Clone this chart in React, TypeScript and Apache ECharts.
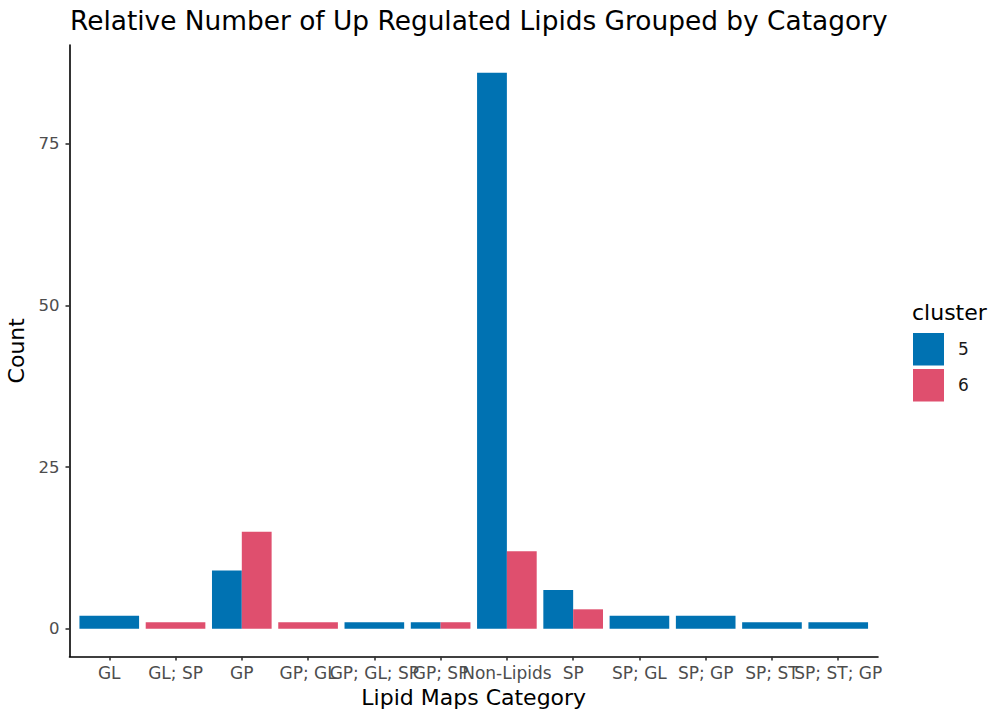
import React, { useEffect, useRef } from "react";
import * as echarts from "echarts";

const categories = [
  "GL", "GL; SP", "GP", "GP; GL", "GP; GL; SP", "GP; SP",
  "Non-Lipids", "SP", "SP; GL", "SP; GP", "SP; ST", "SP; ST; GP",
];
// null = cluster absent for that category
const cluster5: (number | null)[] = [2, null, 9, null, 1, 1, 86, 6, 2, 2, 1, 1];
const cluster6: (number | null)[] = [null, 1, 15, 1, null, 1, 12, 3, null, null, null, null];
const yTicks = [0, 25, 50, 75];

const BLUE = "#0072B2";
const RED = "#DF4F6E";
const FONT = "DejaVu Sans";
const X_MIN = -0.6;
const X_MAX = categories.length - 1 + 0.6;

function buildData(values: (number | null)[], other: (number | null)[], slotIfPair: number) {
  const out: number[][] = [];
  values.forEach((v, i) => {
    if (v === null) return;
    const n = other[i] === null ? 1 : 2;
    out.push([i, v, n === 1 ? 0 : slotIfPair, n]);
  });
  return out;
}

const renderBar = (params: any, api: any) => {
  const x = api.value(0);
  const v = api.value(1);
  const slot = api.value(2);
  const n = api.value(3);
  const w = 0.9 / n;
  const x0 = x - 0.45 + slot * w;
  const p0 = api.coord([x0, 0]);
  const p1 = api.coord([x0 + w, v]);
  return {
    type: "rect",
    shape: { x: p0[0], y: p1[1], width: p1[0] - p0[0], height: p0[1] - p1[1] },
    style: { fill: api.visual("color") },
  };
};

export default function App() {
  const ref = useRef<HTMLDivElement>(null);
  useEffect(() => {
    if (!ref.current) return;
    const chart = echarts.init(ref.current, undefined, { renderer: "svg" });
    const catIdx = categories.map((_, i) => i);
    chart.setOption({
      animation: false,
      backgroundColor: "#ffffff",
      title: {
        text: "Relative Number of Up Regulated Lipids Grouped by Catagory",
        left: 70,
        top: 7,
        padding: 0,
        textStyle: { fontFamily: FONT, fontSize: 26.4, fontWeight: "normal", color: "#000000" },
      },
      grid: {
        left: 69.5,
        right: 130,
        top: 45,
        bottom: 63.5,
        containLabel: false,
        outerBoundsMode: "none",
      },
      xAxis: {
        type: "value",
        min: X_MIN,
        max: X_MAX,
        name: "Lipid Maps Category",
        nameLocation: "middle",
        nameGap: 19,
        nameTextStyle: { fontFamily: FONT, fontSize: 22, color: "#000000" },
        splitLine: { show: false },
        axisLine: { show: true, onZero: false, lineStyle: { color: "#000000", width: 1.6 } },
        axisTick: {
          show: true,
          length: 4,
          lineStyle: { color: "#333333", width: 1.6 },
          customValues: catIdx,
        },
        axisLabel: {
          show: true,
          fontFamily: FONT,
          fontSize: 17,
          color: "#4D4D4D",
          margin: 8,
          hideOverlap: false,
          customValues: [X_MIN, ...catIdx, X_MAX],
          formatter: (v: number) =>
            Math.abs(v - Math.round(v)) < 1e-6 ? categories[Math.round(v)] ?? "" : "",
        },
      },
      yAxis: {
        type: "value",
        min: -4.3,
        max: 90.3,
        name: "Count",
        nameLocation: "middle",
        nameGap: 42,
        nameTextStyle: { fontFamily: FONT, fontSize: 22, color: "#000000" },
        splitLine: { show: false },
        axisLine: { show: true, onZero: false, lineStyle: { color: "#000000", width: 1.6 } },
        axisTick: {
          show: true,
          length: 4,
          lineStyle: { color: "#333333", width: 1.6 },
          customValues: yTicks,
        },
        axisLabel: {
          fontFamily: FONT,
          fontSize: 16.5,
          color: "#4D4D4D",
          margin: 10,
          customValues: yTicks,
        },
      },
      legend: {
        orient: "vertical",
        left: 913,
        top: 333,
        padding: 0,
        itemWidth: 31,
        itemHeight: 32.5,
        itemGap: 3.5,
        icon: "rect",
        data: ["5", "6"],
        textStyle: { fontFamily: FONT, fontSize: 17, color: "#1A1A1A", padding: [0, 0, 0, 9] },
      },
      graphic: [
        {
          type: "text",
          left: 912,
          top: 301,
          style: { text: "cluster", font: `22px "${FONT}"`, fill: "#000000" },
        },
      ],
      series: [
        {
          name: "5",
          type: "custom",
          renderItem: renderBar,
          itemStyle: { color: BLUE },
          encode: { x: 0, y: 1 },
          data: buildData(cluster5, cluster6, 0),
        },
        {
          name: "6",
          type: "custom",
          renderItem: renderBar,
          itemStyle: { color: RED },
          encode: { x: 0, y: 1 },
          data: buildData(cluster6, cluster5, 1),
        },
      ],
    });
    return () => chart.dispose();
  }, []);
  return (
    <div
      ref={ref}
      style={{ position: "fixed", left: 0, top: 0, width: 1008, height: 720 }}
    />
  );
}
